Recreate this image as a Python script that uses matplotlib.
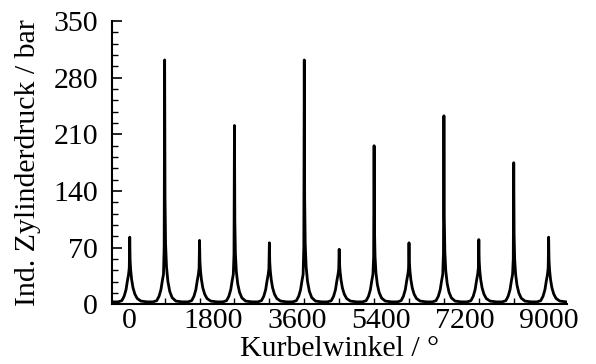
import matplotlib
matplotlib.use('Agg')
import matplotlib.pyplot as plt
from matplotlib.ticker import MultipleLocator
import numpy as np

# Spitzendruck je Arbeitsspiel
peak_angle = [0, 750, 1500, 2250, 3000, 3750, 4500, 5250, 6000, 6750, 7500, 8250, 9000]
peak_bar = [83, 302, 79, 221, 76, 302, 68, 196, 76, 233, 80, 175, 83]

# Form eines Zyklus um den OT: Winkel-Offset, Kompressionsdruck, Anteil der Verbrennungsspitze
offset = [-375, -250, -170, -120, -80, -50, -25, -10, 0, 8, 20, 40, 70, 110, 160, 240, 374]
compr = [3, 3, 4.5, 10, 18, 29, 37, 40, 41, 40, 36, 28, 19, 12, 7, 4, 3]
spike = [0, 0, 0, 0, 0, 0, 0, 0.12, 1.0, 0.35, 0.15, 0.07, 0.035, 0.015, 0.005, 0, 0]

xs, ys = [], []
for a, p in zip(peak_angle, peak_bar):
    for o, c, s in zip(offset, compr, spike):
        xs.append(a + o)
        ys.append(c + s * (p - 41))

plt.rcParams['font.family'] = ['Liberation Serif', 'DejaVu Serif']
plt.rcParams['font.size'] = 21.5

fig = plt.figure(figsize=(5.96, 3.64), dpi=100)
ax = fig.add_axes([0.188, 0.164, 0.763, 0.778])

ax.plot(xs, ys, color='k', lw=2.0)

ax.set_xlim(-380, 9390)
ax.set_ylim(0, 350)
ax.set_xticks([0, 1800, 3600, 5400, 7200, 9000])
ax.set_yticks([0, 70, 140, 210, 280, 350])
ax.yaxis.set_minor_locator(MultipleLocator(14))
ax.xaxis.set_minor_locator(MultipleLocator(750))

ax.spines['top'].set_visible(False)
ax.spines['right'].set_visible(False)
ax.spines['left'].set_linewidth(1.5)
ax.spines['bottom'].set_linewidth(1.5)

ax.tick_params(axis='y', which='major', direction='in', length=7, width=1.2, pad=10)
ax.tick_params(axis='y', which='minor', direction='in', length=4, width=1.0)
ax.tick_params(axis='x', which='major', length=0, pad=3)
ax.tick_params(axis='x', which='minor', direction='in', length=4, width=1.0)

ax.set_xlabel('Kurbelwinkel / °', labelpad=1)
ax.set_ylabel('Ind. Zylinderdruck / bar', labelpad=9)

fig.savefig('out.png', dpi=100)
